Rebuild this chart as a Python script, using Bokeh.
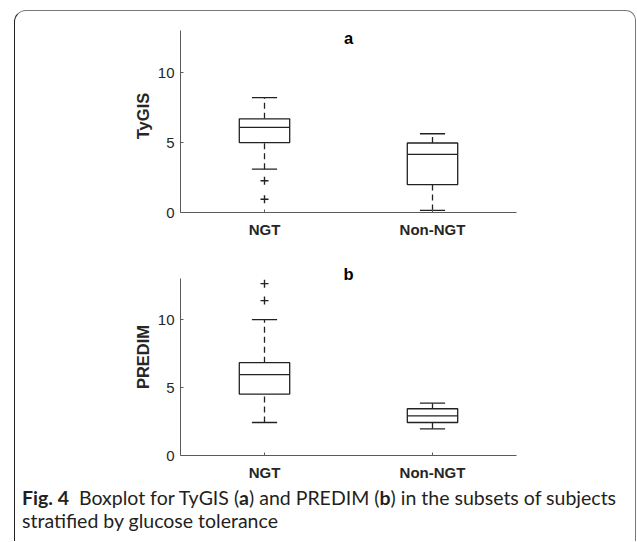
from bokeh.plotting import figure
from bokeh.models import Range1d, FactorRange, ColumnDataSource, Label, Div, InlineStyleSheet
from bokeh.transform import dodge
from bokeh.layouts import column
from bokeh.embed import file_html
from bokeh.resources import INLINE

# ---- data ----
groups = ["NGT", "Non-NGT"]

tygis_low = [3.10, 0.15]
tygis_q1 = [5.00, 2.00]
tygis_med = [6.08, 4.16]
tygis_q3 = [6.70, 4.97]
tygis_high = [8.22, 5.63]
tygis_out_group = ["NGT", "NGT"]
tygis_out_vals = [2.27, 0.95]

predim_low = [2.43, 1.96]
predim_q1 = [4.52, 2.43]
predim_med = [5.95, 2.92]
predim_q3 = [6.83, 3.44]
predim_high = [10.00, 3.85]
predim_out_group = ["NGT", "NGT"]
predim_out_vals = [12.65, 11.40]

y_ticks = [0, 5, 10]
y_axis_max = 13

FONT = "Liberation Sans"
INK = "#222222"
AXIS = "#5a5a5a"


def make_panel(letter, ylabel, low, q1, med, q3, high, og, ov,
               height, b_top, b_bottom, y_top, letter_y):
    p = figure(x_range=FactorRange(*groups), y_range=Range1d(0, y_top),
               width=629, height=height, output_backend="svg",
               toolbar_location=None, min_border_left=180, min_border_right=113,
               min_border_top=b_top, min_border_bottom=b_bottom)
    p.outline_line_color = None
    p.xgrid.grid_line_color = None
    p.ygrid.grid_line_color = None
    p.background_fill_color = "white"
    p.border_fill_color = "white"

    for ax in (p.xaxis, p.yaxis):
        ax.axis_line_color = AXIS
        ax.axis_line_width = 1
        ax.major_tick_line_color = AXIS
        ax.major_tick_in = 3
        ax.major_tick_out = 0
        ax.minor_tick_line_color = None
        ax.major_label_text_font = FONT
        ax.major_label_text_font_size = "15px"
        ax.major_label_text_color = "#262626"
    p.xaxis.major_label_text_font_style = "bold"
    p.xaxis.major_label_standoff = 8
    p.yaxis.ticker = y_ticks
    p.yaxis.bounds = (0, y_axis_max)
    p.yaxis.major_label_standoff = 6
    p.yaxis.axis_label = ylabel
    p.yaxis.axis_label_text_font = FONT
    p.yaxis.axis_label_text_font_size = "16.5px"
    p.yaxis.axis_label_text_font_style = "bold"
    p.yaxis.axis_label_text_color = "#262626"
    p.yaxis.axis_label_standoff = 3

    src = ColumnDataSource(dict(x=groups, low=low, q1=q1, med=med, q3=q3, high=high))
    dash = "6 4"
    p.segment(x0="x", y0="q3", x1="x", y1="high", line_color=INK, line_width=1.3,
              line_dash=dash, source=src)
    p.segment(x0="x", y0="low", x1="x", y1="q1", line_color=INK, line_width=1.3,
              line_dash=dash, source=src)
    for col in ("low", "high"):
        p.segment(x0=dodge("x", -0.075, range=p.x_range), y0=col,
                  x1=dodge("x", 0.075, range=p.x_range), y1=col,
                  line_color=INK, line_width=1.3, source=src)
    p.vbar(x="x", width=0.3, bottom="q1", top="q3", fill_color="white",
           line_color=INK, line_width=1.3, source=src)
    p.segment(x0=dodge("x", -0.15, range=p.x_range), y0="med",
              x1=dodge("x", 0.15, range=p.x_range), y1="med",
              line_color=INK, line_width=1.3, source=src)
    p.scatter(x=og, y=ov, marker="cross", size=8, line_color=INK, line_width=1.4)

    p.add_layout(Label(x=168, y=letter_y, x_units="screen", y_units="data", text=letter,
                       text_align="center", text_baseline="alphabetic",
                       text_font=FONT, text_font_style="bold", text_font_size="16.5px",
                       text_color="#000000"))
    return p


pa = make_panel("a", "TyGIS", tygis_low, tygis_q1, tygis_med, tygis_q3, tygis_high,
                tygis_out_group, tygis_out_vals, 248, 19, 36, 13.8, 12.5)
pb = make_panel("b", "PREDIM", predim_low, predim_q1, predim_med, predim_q3, predim_high,
                predim_out_group, predim_out_vals, 237, 10, 30, 14.5, 13.37)

caption = Div(
    text=('<div style="padding-left:22px; padding-top:1px; font-family: Lato, sans-serif; '
          'font-size:19.5px; line-height:23px; color:#231f20; white-space:nowrap;">'
          '<b>Fig.&nbsp;4</b>&nbsp; Boxplot for TyGIS (<b>a</b>) and PREDIM (<b>b</b>) '
          'in the subsets of subjects<br>stratified by glucose tolerance</div>'),
    width=629, height=40, margin=(0, 0, 0, 0))

frame_css = InlineStyleSheet(css="""
:host { position: relative; }
:host::before {
  content: '';
  position: absolute;
  left: 14px; top: 10px;
  width: 620px; height: 530px;
  border-left: 1.5px solid #222;
  border-top: 1.5px solid #777;
  border-right: 1px solid #777;
  border-top-left-radius: 12px;
  border-top-right-radius: 10px;
  pointer-events: none;
  z-index: 5;
}
""")

layout = column(pa, pb, caption, spacing=0, stylesheets=[frame_css])

open("out.html", "w").write(file_html(layout, INLINE))
